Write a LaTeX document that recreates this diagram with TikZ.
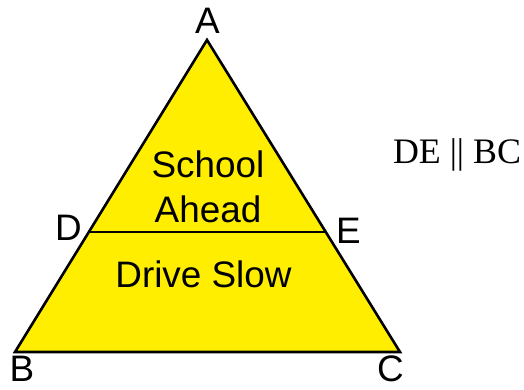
\documentclass[tikz,border=0pt]{standalone}
\usepackage{fontspec}
\newfontfamily\arialfont{Liberation Sans}
\newfontfamily\timesfont{Liberation Serif}
\usetikzlibrary{calc}
\definecolor{signyellow}{RGB}{255,238,0}

\begin{document}
\begin{tikzpicture}[x=1bp,y=-1bp,
 vlbl/.style={inner sep=0pt,anchor=base,font=\arialfont\fontsize{37}{40}\selectfont},
 txt/.style={inner sep=0pt,anchor=base,font=\arialfont\fontsize{37}{40}\selectfont},
 note/.style={inner sep=0pt,anchor=base,font=\timesfont\fontsize{36}{40}\selectfont}]
\useasboundingbox (0,0) rectangle (524,389);
% triangle
\coordinate (A) at (207,40);
\coordinate (B) at (15,352);
\coordinate (C) at (400,352);
\coordinate (D) at ($(A)!0.6154!(B)$);
\coordinate (E) at ($(A)!0.6154!(C)$);
\fill[signyellow] (A)--(B)--(C)--cycle;
\draw[line width=2bp] (D)--(E);
\draw[line width=2.6bp,line join=miter] (A)--(B)--(C)--cycle;
% vertex labels
\node[vlbl] (la) at (207.5,33) {A};
\node[vlbl] (ld) at (68.5,240) {D};
\node[vlbl] (le) at (348.5,243) {E};
\node[vlbl] (lb) at (22,381) {B};
\node[vlbl] (lc) at (390.5,381) {C};
% sign text
\node[txt] (school) at (208,177) {School};
\node[txt] (ahead) at (208,222) {Ahead};
\node[txt] (drive) at (203.5,287) {Drive Slow};
\node[note] (par) at (457,163) {DE || BC};
\end{tikzpicture}
\end{document}
